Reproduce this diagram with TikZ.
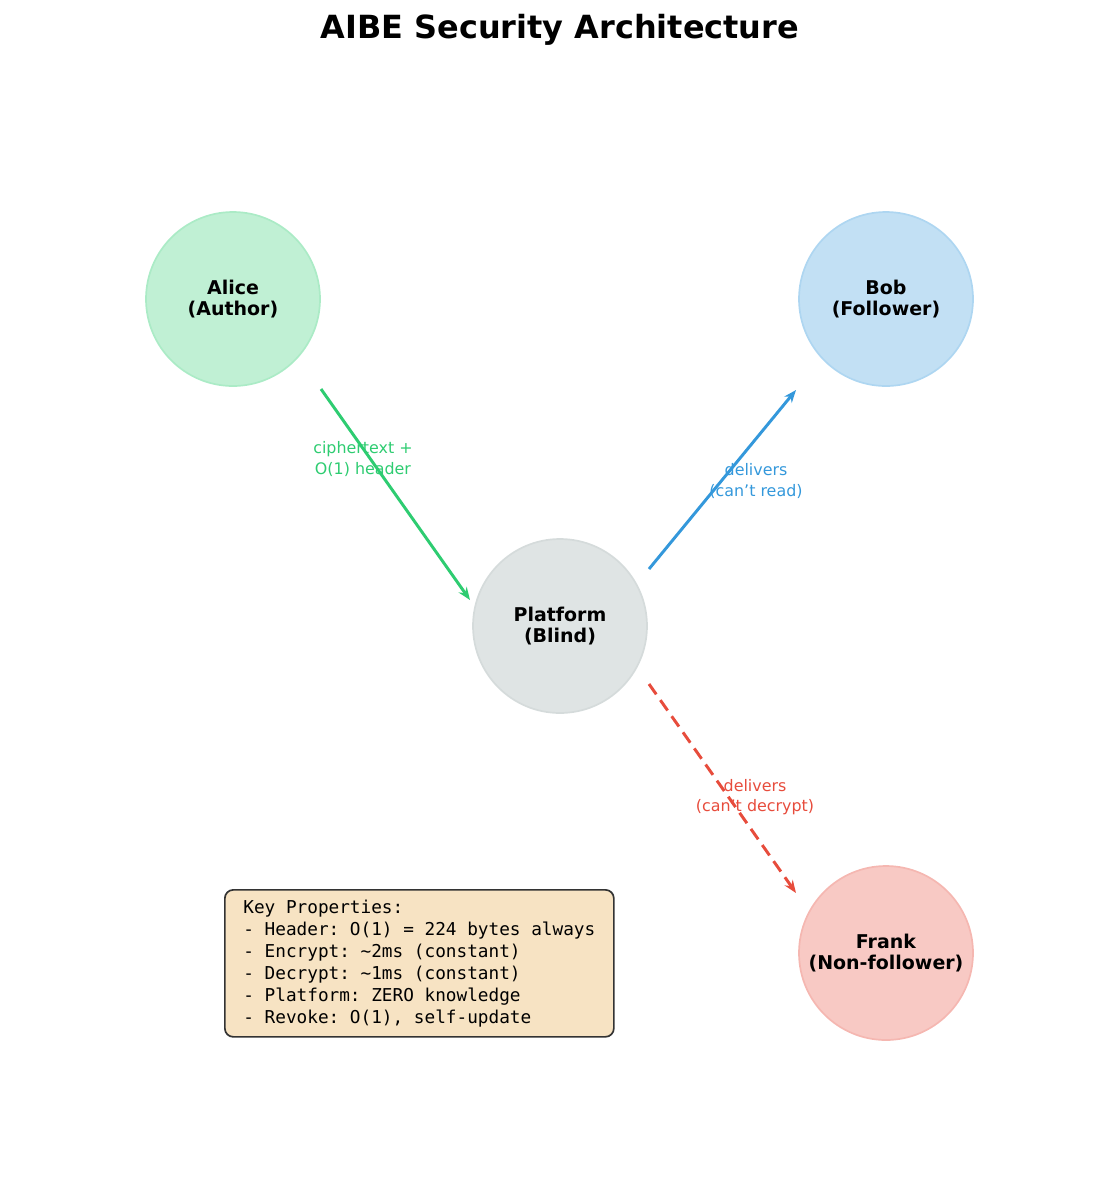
\documentclass[tikz,border=0pt]{standalone}
\usepackage{fontspec}
\setmainfont{DejaVu Sans}
\setmonofont{DejaVu Sans Mono}
\usetikzlibrary{arrows.meta,positioning}
\definecolor{cgreen}{HTML}{2ECC71}
\definecolor{cblue}{HTML}{3498DB}
\definecolor{cgray}{HTML}{95A5A6}
\definecolor{cred}{HTML}{E74C3C}
\definecolor{wheat}{HTML}{F7E3C3}
\tikzset{
  party/.style={circle,minimum size=174*0.025cm,inner sep=0pt,align=center,
    font=\fontsize{13.5}{15}\selectfont\bfseries,line width=1.2pt},
  flow/.style={line width=2.1pt,-{Stealth[length=9pt,width=7pt]}},
  lbl/.style={align=center,font=\fontsize{11.3}{14.5}\selectfont}
}
\begin{document}
\begin{tikzpicture}[x=0.025cm,y=-0.025cm]
  \useasboundingbox (0,0) rectangle (1119,1186);
  \node[font=\fontsize{22.7}{26}\selectfont\bfseries] (title) at (560,30) {AIBE Security Architecture};

  % parties
  \node[party,fill=cgreen!30,draw=cgreen!40] (alice) at (233,299) {Alice\\(Author)};
  \node[party,fill=cblue!30,draw=cblue!40] (bob) at (886,299) {Bob\\(Follower)};
  \node[party,fill=cgray!30,draw=cgray!40] (platform) at (560,626) {Platform\\(Blind)};
  \node[party,fill=cred!30,draw=cred!40] (frank) at (886,953) {Frank\\(Non-follower)};

  % arrow ends
  \coordinate (a1) at (321,389);
  \coordinate (a2) at (470,600);
  \coordinate (b1) at (649,569);
  \coordinate (b2) at (796,390);
  \coordinate (f1) at (649,684);
  \coordinate (f2) at (796,893);

  \draw[flow,cgreen] (a1) -- (a2);
  \draw[flow,cblue] (b1) -- (b2);
  \draw[flow,cred,dash pattern=on 9pt off 5pt] (f1) -- (f2);

  \node[lbl,text=cgreen] (lalice) at (363,459) {ciphertext +\\O(1) header};
  \node[lbl,text=cblue] (lbob) at (756,481) {delivers\\(can't read)};
  \node[lbl,text=cred] (lfrank) at (755,797) {delivers\\(can't decrypt)};

  % properties box
  \node[draw=black!80,fill=wheat,rounded corners=6pt,line width=1.2pt,
    minimum width=389*0.025cm,minimum height=147*0.025cm,inner sep=6pt,
    align=left,anchor=north west,font=\ttfamily\fontsize{12.6}{15.6}\selectfont]
    (props) at (224,889) {Key Properties:\\
- Header: O(1) = 224 bytes always\\
- Encrypt: \textasciitilde2ms (constant)\\
- Decrypt: \textasciitilde1ms (constant)\\
- Platform: ZERO knowledge\\
- Revoke: O(1), self-update};
\end{tikzpicture}
\end{document}
